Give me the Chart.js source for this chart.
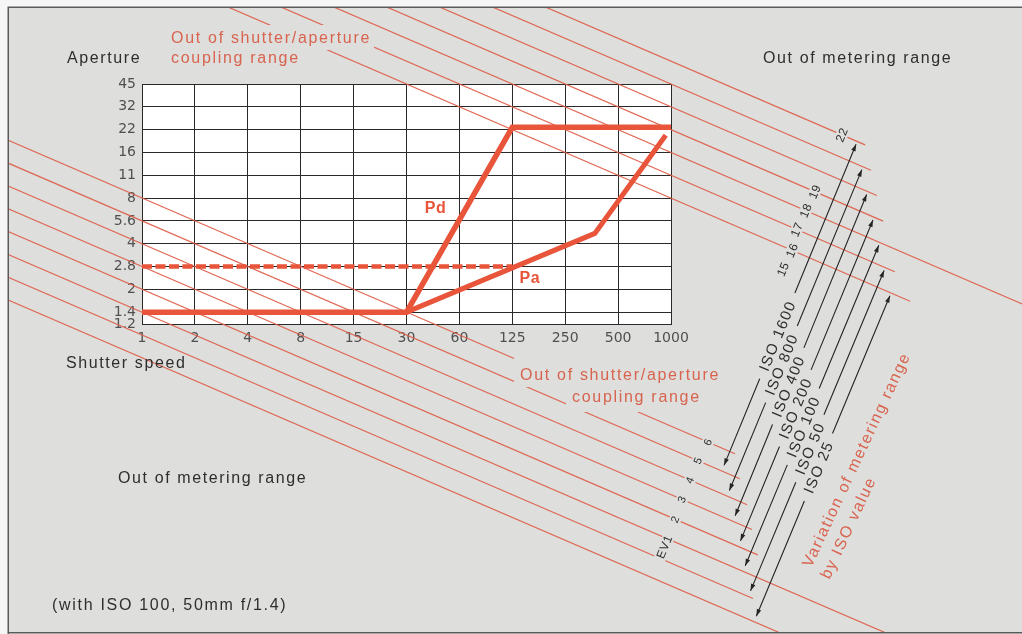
<!DOCTYPE html>
<html>
<head>
<meta charset="utf-8">
<script src="https://cdn.jsdelivr.net/npm/chart.js@4.4.1/dist/chart.umd.min.js"></script>
<style>
  html, body { margin: 0; padding: 0; background: #f6f6f6; }
  canvas { display: block; }
</style>
</head>
<body>
<canvas id="chart" width="1022" height="634"></canvas>
<script>
// Scales: one step per stop. Shutter steps count from 1 s, aperture steps from f/1.4.
const shutterLabels = ['1', '2', '4', '8', '15', '30', '60', '125', '250', '500', '1000'];
const apertureLabels = ['1.4', '2', '2.8', '4', '5.6', '8', '11', '16', '22', '32', '45'];
const apertureFloorLabel = '1.2';
const apertureFloorStop = -0.52;

// Programme lines (x = shutter step, y = aperture step)
const pdShutter = [0, 5, 7, 10];
const pdAperture = [0, 0, 8.1, 8.1];
const paShutter = [5, 8.56, 9.9];
const paAperture = [0, 3.45, 7.75];
const limitShutter = [0, 7];
const limitAperture = [2, 2];

// Exposure-value lines: every line keeps EV = aperture value + time value.
// Each list gives the EV and the shutter step at which the line stops.
const lowerEv = [6, 5, 4, 3, 2, 1, 0, -1];
const lowerEvTo = [11.21, 11.30, 11.44, 11.53, 11.64, 17, 11.55, 17];
const upperEv = [22, 21, 20, 19, 18, 17, 16];
const upperEvTo = [13.67, 13.78, 13.89, 14.01, 17, 14.23, 14.52];
const evFrom = -3;

// EV numbers written on the lines, and the shutter step where each sits
const lowerEvMarks = [1, 2, 3, 4, 5, 6];
const lowerEvMarkAt = [9.94, 10.08, 10.21, 10.36, 10.51, 10.70];
const upperEvMarks = [15, 16, 17, 18, 19, 22];
const upperEvMarkAt = [12.12, 12.29, 12.38, 12.55, 12.72, 13.23];

// Metering range per film speed: lower / upper EV and where the arrow tips sit
const isoSpeeds = [1600, 800, 400, 200, 100, 50, 25];
const isoLowEv = [5, 4, 3, 2, 1, 0, -1];
const isoHighEv = [22, 21, 20, 19, 18, 17, 16];
const isoLowAt = [10.96, 11.06, 11.17, 11.27, 11.36, 11.46, 11.57];
const isoHighAt = [13.52, 13.63, 13.72, 13.84, 13.95, 14.05, 14.16];
const isoLabelAt = [0.41, 0.40, 0.41, 0.42, 0.44, 0.45, 0.47];

const W = 1022, H = 634;
const PAPER = '#dededd';
const INK = '#2e2e2e';
const RED_LINE = '#e8553a';
const RED_TEXT = '#d8644f';
const EV_RED = 'rgba(221, 92, 70, 0.92)';
const SANS = "'Liberation Sans', Arial, Helvetica, sans-serif";
const NARROW = "'Liberation Sans Narrow', 'DejaVu Sans', sans-serif";

const pts = (xs, ys) => xs.map((x, i) => ({ x, y: ys[i] }));
const evSegment = (ev, from, to) => [{ x: from, y: ev - 1 - from }, { x: to, y: ev - 1 - to }];

// Lines may run past the grid, up to the inner edge of the frame
const FRAME = { left: 9, top: 8, right: W, bottom: 632 };
const PLOT = { left: 142, top: 84, right: 671, bottom: 324 };
const frameClip = {
  left: PLOT.left - FRAME.left,
  top: PLOT.top - FRAME.top,
  right: FRAME.right - PLOT.right,
  bottom: FRAME.bottom - PLOT.bottom
};

const base = { showLine: true, pointRadius: 0, tension: 0, fill: false, clip: frameClip };
const datasets = [
  { ...base, label: 'Pd', data: pts(pdShutter, pdAperture), borderColor: RED_LINE, borderWidth: 5.5, borderJoinStyle: 'miter' },
  { ...base, label: 'Pa', data: pts(paShutter, paAperture), borderColor: RED_LINE, borderWidth: 5, borderJoinStyle: 'miter' },
  { ...base, label: 'f/2.8', data: pts(limitShutter, limitAperture), borderColor: RED_LINE, borderWidth: 4.5, borderDash: [10, 3.5] }
];
lowerEv.forEach((ev, i) => datasets.push({ ...base, label: 'EV ' + ev, data: evSegment(ev, evFrom, lowerEvTo[i]), borderColor: EV_RED, borderWidth: 1.2 }));
upperEv.forEach((ev, i) => datasets.push({ ...base, label: 'EV ' + ev, data: evSegment(ev, evFrom, upperEvTo[i]), borderColor: EV_RED, borderWidth: 1.2 }));

function drawText(ctx, str, x, y, o) {
  ctx.save();
  ctx.font = o.font;
  ctx.letterSpacing = o.spacing || '0px';
  ctx.textAlign = 'left';
  ctx.textBaseline = o.baseline || 'alphabetic';
  const w = ctx.measureText(str).width;
  const x0 = o.align === 'center' ? x - w / 2 : (o.align === 'right' ? x - w : x);
  if (o.bg) {
    ctx.fillStyle = PAPER;
    ctx.fillRect(x0 - o.bg[0], y - o.bg[1], w + 2 * o.bg[0], o.bg[1] + o.bg[2]);
  }
  ctx.fillStyle = o.color;
  ctx.fillText(str, x0, y);
  ctx.restore();
}

function arrowHead(ctx, tip, ux, uy) {
  const L = 7, hw = 2.3;
  ctx.beginPath();
  ctx.moveTo(tip[0], tip[1]);
  ctx.lineTo(tip[0] - ux * L - uy * hw, tip[1] - uy * L + ux * hw);
  ctx.lineTo(tip[0] - ux * L + uy * hw, tip[1] - uy * L - ux * hw);
  ctx.closePath();
  ctx.fill();
}

const backdrop = {
  id: 'backdrop',
  beforeDraw(chart) {
    const { ctx, chartArea: a } = chart;
    ctx.save();
    ctx.fillStyle = '#f6f6f6';
    ctx.fillRect(0, 0, W, H);
    ctx.fillStyle = PAPER;
    ctx.fillRect(FRAME.left, FRAME.top, FRAME.right - FRAME.left, FRAME.bottom - FRAME.top);
    ctx.fillStyle = '#ffffff';
    ctx.fillRect(a.left, a.top, a.right - a.left, a.bottom - a.top);
    ctx.strokeStyle = '#5a5a5a';
    ctx.lineWidth = 1.5;
    ctx.beginPath();
    ctx.moveTo(8.25, H);
    ctx.lineTo(8.25, 7.25);
    ctx.lineTo(W, 7.25);
    ctx.moveTo(8.25, 632.75);
    ctx.lineTo(W, 632.75);
    ctx.stroke();
    ctx.restore();
  }
};

const annotate = {
  id: 'annotate',
  afterDatasetsDraw(chart) {
    const { ctx, scales } = chart;
    const xs = scales.x, ys = scales.y;
    const onEv = (ev, tv) => [xs.getPixelForValue(tv), ys.getPixelForValue(ev - 1 - tv)];

    // Area captions; the red ones sit on a paper patch that cuts the EV lines
    const body = { font: '16px ' + SANS, spacing: '1.6px', color: INK };
    const red = { font: '16px ' + SANS, spacing: '1.7px', color: RED_TEXT };
    drawText(ctx, 'Aperture', 67, 63, body);
    drawText(ctx, 'Out of metering range', 763, 63, body);
    drawText(ctx, 'Shutter speed', 66, 368, body);
    drawText(ctx, 'Out of metering range', 118, 483, body);
    drawText(ctx, '(with ISO 100, 50mm f/1.4)', 52, 610, { ...body, spacing: '1.7px' });
    drawText(ctx, 'Out of shutter/aperture', 171, 43, { ...red, bg: [3, 18, 7] });
    drawText(ctx, 'coupling range', 171, 63, { ...red, bg: [3, 18, 7] });
    drawText(ctx, 'Out of shutter/aperture', 520, 380, { ...red, bg: [6, 22, 7] });
    drawText(ctx, 'coupling range', 572, 402, { ...red, bg: [6, 18, 10] });

    // Programme names
    const bold = { font: 'bold 16px ' + SANS, spacing: '0.5px', color: RED_LINE, align: 'center', baseline: 'middle' };
    drawText(ctx, 'Pd', xs.getPixelForValue(5.55), ys.getPixelForValue(4.55), bold);
    drawText(ctx, 'Pa', xs.getPixelForValue(7.33), ys.getPixelForValue(1.45), bold);

    // Direction of the ISO arrows, shared by all rotated text
    const a0 = onEv(isoLowEv[0], isoLowAt[0]);
    const b0 = onEv(isoHighEv[0], isoHighAt[0]);
    const ang = Math.atan2(b0[1] - a0[1], b0[0] - a0[0]);

    const rotated = (str, p, font, color, shift, bg) => {
      ctx.save();
      ctx.translate(p[0], p[1]);
      ctx.rotate(ang);
      ctx.font = font;
      ctx.letterSpacing = '0.5px';
      ctx.textBaseline = 'middle';
      ctx.textAlign = 'left';
      const w = ctx.measureText(str).width;
      const x0 = -w / 2 - (shift || 0);
      if (bg) {
        ctx.fillStyle = PAPER;
        ctx.fillRect(x0 - 2, -6, w + 4, 12);
      }
      ctx.fillStyle = color;
      ctx.fillText(str, x0, 0.5);
      ctx.restore();
    };

    // EV numbers along the lines
    lowerEvMarks.forEach((ev, i) => {
      const p = onEv(ev, lowerEvMarkAt[i]);
      if (i === 0) {
        ctx.save();
        ctx.font = '12px ' + SANS;
        ctx.letterSpacing = '0.5px';
        const wEV = ctx.measureText('EV').width;
        ctx.restore();
        rotated('EV' + ev, p, '12px ' + SANS, INK, wEV / 2, true);
      } else {
        rotated(String(ev), p, '11px ' + SANS, INK, 0, true);
      }
    });
    upperEvMarks.forEach((ev, i) => {
      rotated(String(ev), onEv(ev, upperEvMarkAt[i]), '12px ' + SANS, INK, 0, true);
    });

    // Double-headed arrows with their film speeds
    ctx.save();
    ctx.strokeStyle = '#242424';
    ctx.fillStyle = '#242424';
    ctx.lineWidth = 1.1;
    isoSpeeds.forEach((iso, i) => {
      const lo = onEv(isoLowEv[i], isoLowAt[i]);
      const hi = onEv(isoHighEv[i], isoHighAt[i]);
      const dx = hi[0] - lo[0], dy = hi[1] - lo[1];
      const len = Math.hypot(dx, dy);
      const ux = dx / len, uy = dy / len;
      const a = [lo[0] + ux * 6, lo[1] + uy * 6];
      const b = [hi[0] - ux * 3, hi[1] - uy * 3];
      const text = 'ISO ' + iso;
      ctx.font = '15px ' + SANS;
      ctx.letterSpacing = '1.4px';
      const w = ctx.measureText(text).width;
      const c = [lo[0] + dx * isoLabelAt[i], lo[1] + dy * isoLabelAt[i]];
      const gap = w / 2 + 9;
      ctx.beginPath();
      ctx.moveTo(a[0], a[1]);
      ctx.lineTo(c[0] - ux * gap, c[1] - uy * gap);
      ctx.moveTo(c[0] + ux * gap, c[1] + uy * gap);
      ctx.lineTo(b[0], b[1]);
      ctx.stroke();
      arrowHead(ctx, a, -ux, -uy);
      arrowHead(ctx, b, ux, uy);
      ctx.save();
      ctx.translate(c[0], c[1]);
      ctx.rotate(Math.atan2(dy, dx));
      ctx.textBaseline = 'middle';
      ctx.textAlign = 'left';
      ctx.fillStyle = INK;
      ctx.fillText(text, -w / 2, 1);
      ctx.restore();
    });
    ctx.restore();

    // Caption for the arrows
    const cap = (str, cx, cy) => {
      ctx.save();
      ctx.translate(cx, cy);
      ctx.rotate(-65 * Math.PI / 180);
      ctx.font = '16px ' + SANS;
      ctx.letterSpacing = '1.6px';
      ctx.textAlign = 'left';
      ctx.textBaseline = 'middle';
      const w = ctx.measureText(str).width;
      ctx.fillStyle = RED_TEXT;
      ctx.fillText(str, -w / 2, 0);
      ctx.restore();
    };
    cap('Variation of metering range', 857, 460);
    cap('by ISO value', 849, 528);
  }
};

// Condensed numerals for the axis scales
const tickFont = { family: NARROW, size: 14, style: 'condensed' };

new Chart(document.getElementById('chart'), {
  type: 'scatter',
  data: { datasets },
  options: {
    responsive: false,
    animation: false,
    events: [],
    layout: { padding: { left: 0, top: PLOT.top, right: W - PLOT.right, bottom: H - PLOT.bottom - 40 } },
    plugins: { legend: { display: false }, tooltip: { enabled: false } },
    scales: {
      x: {
        type: 'linear',
        min: 0,
        max: shutterLabels.length - 1,
        afterBuildTicks: (axis) => { axis.ticks = shutterLabels.map((_, i) => ({ value: i })); },
        afterFit: (axis) => { axis.height = 40; },
        grid: { color: '#2a2a2a', lineWidth: 1, drawTicks: false },
        border: { display: true, color: '#2a2a2a', width: 1 },
        ticks: {
          autoSkip: false,
          maxRotation: 0,
          padding: 6,
          color: '#505050',
          font: tickFont,
          callback: (v) => shutterLabels[Math.round(v)]
        }
      },
      y: {
        type: 'linear',
        min: apertureFloorStop,
        max: apertureLabels.length - 1,
        afterBuildTicks: (axis) => {
          axis.ticks = [{ value: apertureFloorStop }].concat(apertureLabels.map((_, i) => ({ value: i })));
        },
        afterFit: (axis) => { axis.width = PLOT.left; },
        grid: { color: '#2a2a2a', lineWidth: 1, drawTicks: false },
        border: { display: true, color: '#2a2a2a', width: 1 },
        ticks: {
          autoSkip: false,
          padding: 6,
          color: '#505050',
          font: tickFont,
          callback: (v) => (v < 0 ? apertureFloorLabel : apertureLabels[Math.round(v)])
        }
      }
    }
  },
  plugins: [backdrop, annotate]
});
</script>
</body>
</html>
